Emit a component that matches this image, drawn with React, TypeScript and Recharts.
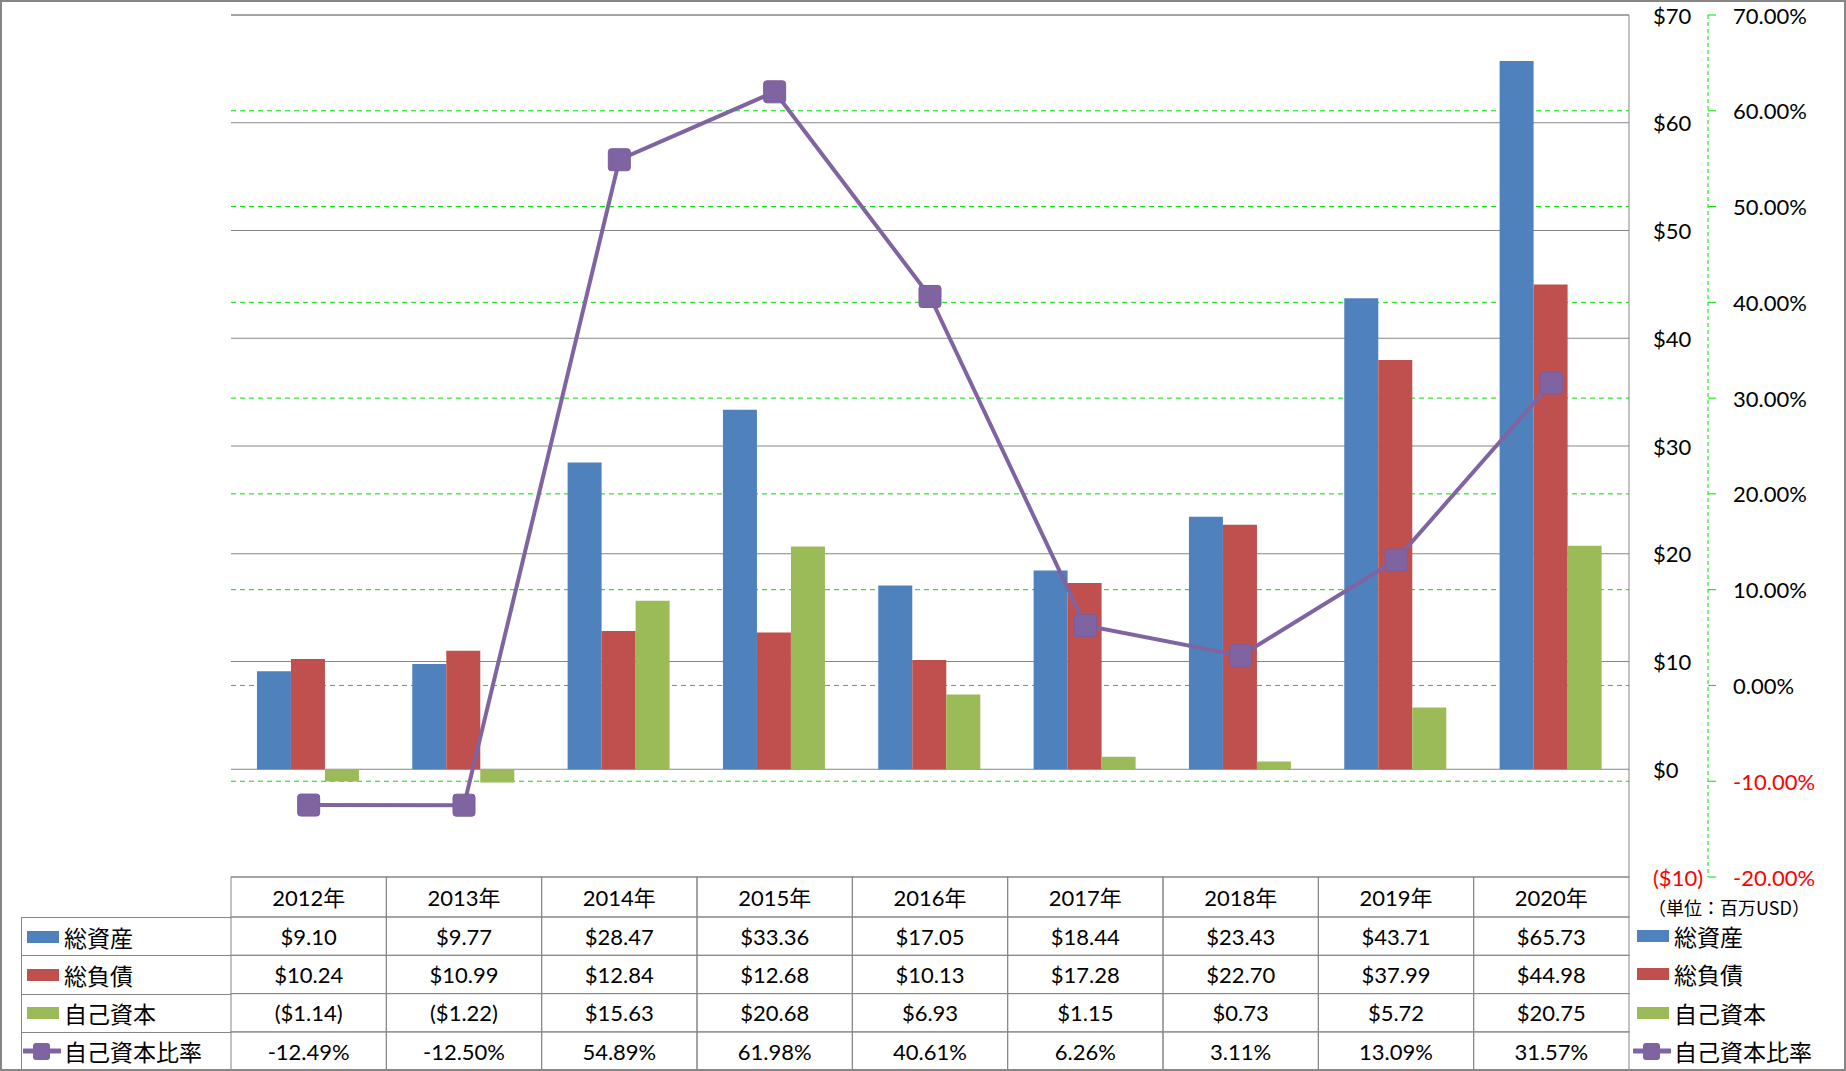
import React from "react";
import {
  ComposedChart,
  Bar,
  Line,
  XAxis,
  YAxis,
  CartesianGrid,
  ReferenceLine,
} from "recharts";

// 年度と各系列（単位：百万USD）
const years = ["2012年", "2013年", "2014年", "2015年", "2016年", "2017年", "2018年", "2019年", "2020年"];
const totalAssets = [9.1, 9.77, 28.47, 33.36, 17.05, 18.44, 23.43, 43.71, 65.73];
const totalLiabilities = [10.24, 10.99, 12.84, 12.68, 10.13, 17.28, 22.7, 37.99, 44.98];
const equity = [-1.14, -1.22, 15.63, 20.68, 6.93, 1.15, 0.73, 5.72, 20.75];
const equityRatio = [-12.49, -12.5, 54.89, 61.98, 40.61, 6.26, 3.11, 13.09, 31.57];

const seriesNames = ["総資産", "総負債", "自己資本", "自己資本比率"];
const usdTicks = [-10, 0, 10, 20, 30, 40, 50, 60, 70];
const pctTicks = [-20, -10, 0, 10, 20, 30, 40, 50, 60, 70];
const unitLabel = "（単位：百万USD）";

const colors = {
  assets: "#4F81BD",
  liabilities: "#C0504D",
  equity: "#9BBB59",
  ratio: "#8064A2",
  grid: "#868686",
  green: "#00e000",
};

const FONT = "Lato, 'Noto Sans CJK JP', sans-serif";
const JP_FONT = "'Noto Sans CJK JP', sans-serif";

// 軸ID（並び順で内側→外側）
const USD = "axis1";
const PCT = "axis2";

const W = 1846;
const H = 1071;
const PLOT_LEFT = 231;
const PLOT_RIGHT = 1629;
const PLOT_TOP = 15;
const PLOT_BOTTOM = 877;
const COL_W = (PLOT_RIGHT - PLOT_LEFT) / years.length;
const HEADER_H = 40;
const ROW_H = 38.3;

const data = years.map((year, i) => ({
  year,
  assets: totalAssets[i],
  liabilities: totalLiabilities[i],
  equity: equity[i],
  ratio: equityRatio[i],
}));

const fmtUsd = (v: number) =>
  v < 0 ? `($${Math.abs(v).toFixed(2)})` : `$${v.toFixed(2)}`;
const fmtPct = (v: number) => `${v.toFixed(2)}%`;

const rowValues = (i: number) => [
  fmtUsd(totalAssets[i]),
  fmtUsd(totalLiabilities[i]),
  fmtUsd(equity[i]),
  fmtPct(equityRatio[i]),
];

// データテーブルの列（X軸の目盛りとして描く）
const TableTick = (props: any) => {
  const { x, y, payload } = props;
  const i = years.indexOf(payload.value);
  const left = x - COL_W / 2;
  const values = rowValues(i);
  return (
    <g>
      <rect x={left} y={y} width={COL_W} height={HEADER_H} fill="none" stroke={colors.grid} strokeWidth={1} />
      <text x={x} y={y + HEADER_H / 2} textAnchor="middle" dominantBaseline="central" fontSize={22} fontFamily={FONT} fill="#000">
        {payload.value}
      </text>
      {values.map((v, r) => {
        const top = y + HEADER_H + r * ROW_H;
        return (
          <g key={r}>
            <rect x={left} y={top} width={COL_W} height={ROW_H} fill="none" stroke={colors.grid} strokeWidth={1} />
            <text x={x} y={top + ROW_H / 2} textAnchor="middle" dominantBaseline="central" fontSize={22} fontFamily={FONT} fill="#000">
              {v}
            </text>
          </g>
        );
      })}
    </g>
  );
};

const UsdTick = (props: any) => {
  const { x, y, payload } = props;
  const v = payload.value;
  const label = v < 0 ? `($${Math.abs(v)})` : `$${v}`;
  return (
    <text x={x} y={y} textAnchor="start" dominantBaseline="central" fontSize={22} fontFamily={FONT} fill={v < 0 ? "#ff0000" : "#000"}>
      {label}
    </text>
  );
};

const PctTick = (props: any) => {
  const { x, y, payload } = props;
  const v = payload.value;
  return (
    <text x={x} y={y} textAnchor="start" dominantBaseline="central" fontSize={22} fontFamily={FONT} fill={v < 0 ? "#ff0000" : "#000"}>
      {fmtPct(v)}
    </text>
  );
};

const SquareDot = (props: any) => {
  const { cx, cy } = props;
  if (cx == null || cy == null) return null;
  return (
    <rect x={cx - 11} y={cy - 11} width={22} height={22} rx={3} fill={colors.ratio} stroke="#7a5c9e" strokeWidth={1} />
  );
};

const LegendKey = ({ idx }: { idx: number }) => {
  if (idx === 3) {
    return (
      <svg width={38} height={20} style={{ display: "block" }}>
        <line x1={1} y1={10} x2={37} y2={10} stroke={colors.ratio} strokeWidth={5} strokeLinecap="round" />
        <rect x={10} y={2} width={17} height={17} rx={3} fill={colors.ratio} />
      </svg>
    );
  }
  const c = [colors.assets, colors.liabilities, colors.equity][idx];
  return (
    <svg width={38} height={20} style={{ display: "block" }}>
      <rect x={4} y={4} width={32} height={12} fill={c} />
    </svg>
  );
};

const App: React.FC = () => {
  const rowTop = (r: number) => PLOT_BOTTOM + HEADER_H + r * ROW_H;
  return (
    <div
      style={{
        position: "absolute",
        left: 0,
        top: 0,
        width: W,
        height: H,
        background: "#fff",
        border: `2px solid ${colors.grid}`,
        boxSizing: "border-box",
        overflow: "hidden",
      }}
    >
      <div style={{ position: "absolute", left: -2, top: -2 }}>
        <ComposedChart
          width={W}
          height={H}
          data={data}
          margin={{ top: PLOT_TOP, left: PLOT_LEFT, right: 28, bottom: 0 }}
          barCategoryGap="16.7%"
          barGap={0}
        >
          <CartesianGrid
            yAxisId={PCT}
            vertical={false}
            stroke={colors.green}
            strokeDasharray="5 4"
            horizontalValues={pctTicks.slice(1, -1)}
          />
          <CartesianGrid yAxisId={USD} vertical={false} stroke={colors.grid} />
          <XAxis
            dataKey="year"
            height={H - PLOT_BOTTOM}
            axisLine={false}
            tickLine={false}
            tickSize={0}
            tickMargin={0}
            interval={0}
            tick={<TableTick />}
          />
          <YAxis
            yAxisId={USD}
            orientation="right"
            domain={[-10, 70]}
            ticks={usdTicks}
            width={79}
            axisLine={{ stroke: colors.grid }}
            tickLine={false}
            tickSize={0}
            tickMargin={24}
            tick={<UsdTick />}
            allowDataOverflow
          />
          <YAxis
            yAxisId={PCT}
            orientation="right"
            domain={[-20, 70]}
            ticks={pctTicks}
            width={110}
            axisLine={{ stroke: colors.green, strokeDasharray: "4 3" }}
            tickLine={{ stroke: colors.green }}
            tickSize={8}
            tickMargin={17}
            tick={<PctTick />}
            allowDataOverflow
          />
          <ReferenceLine yAxisId={USD} y={70} stroke={colors.grid} />
          <Bar yAxisId={USD} dataKey="assets" name={seriesNames[0]} fill={colors.assets} isAnimationActive={false} />
          <Bar yAxisId={USD} dataKey="liabilities" name={seriesNames[1]} fill={colors.liabilities} isAnimationActive={false} />
          <Bar yAxisId={USD} dataKey="equity" name={seriesNames[2]} fill={colors.equity} isAnimationActive={false} />
          <Line
            yAxisId={PCT}
            dataKey="ratio"
            name={seriesNames[3]}
            stroke={colors.ratio}
            strokeWidth={4}
            dot={<SquareDot />}
            activeDot={false}
            isAnimationActive={false}
          />
        </ComposedChart>
      </div>

      {/* 左側の系列名列 */}
      {seriesNames.map((name, r) => (
        <div
          key={name}
          style={{
            position: "absolute",
            left: 19,
            top: rowTop(r) - 2,
            width: PLOT_LEFT - 21,
            height: ROW_H,
            borderTop: `1px solid ${colors.grid}`,
            borderLeft: `1px solid ${colors.grid}`,
            borderBottom: r === 3 ? `1px solid ${colors.grid}` : "none",
            boxSizing: "border-box",
            display: "flex",
            alignItems: "center",
          }}
        >
          <div style={{ marginLeft: 1 }}>
            <LegendKey idx={r} />
          </div>
          <span style={{ fontFamily: JP_FONT, fontSize: 23, color: "#000", marginLeft: 3, whiteSpace: "nowrap" }}>{name}</span>
        </div>
      ))}

      {/* 右側の凡例 */}
      <div
        style={{
          position: "absolute",
          left: 1646,
          top: 895,
          fontFamily: JP_FONT,
          fontSize: 18,
          color: "#000",
          whiteSpace: "nowrap",
          lineHeight: "20px",
        }}
      >
        {unitLabel}
      </div>
      {seriesNames.map((name, r) => (
        <div
          key={"lg" + name}
          style={{
            position: "absolute",
            left: 1631,
            top: rowTop(r) - 2,
            height: ROW_H,
            display: "flex",
            alignItems: "center",
          }}
        >
          <LegendKey idx={r} />
          <span style={{ fontFamily: JP_FONT, fontSize: 23, color: "#000", marginLeft: 3, whiteSpace: "nowrap" }}>{name}</span>
        </div>
      ))}
    </div>
  );
};

export default App;
